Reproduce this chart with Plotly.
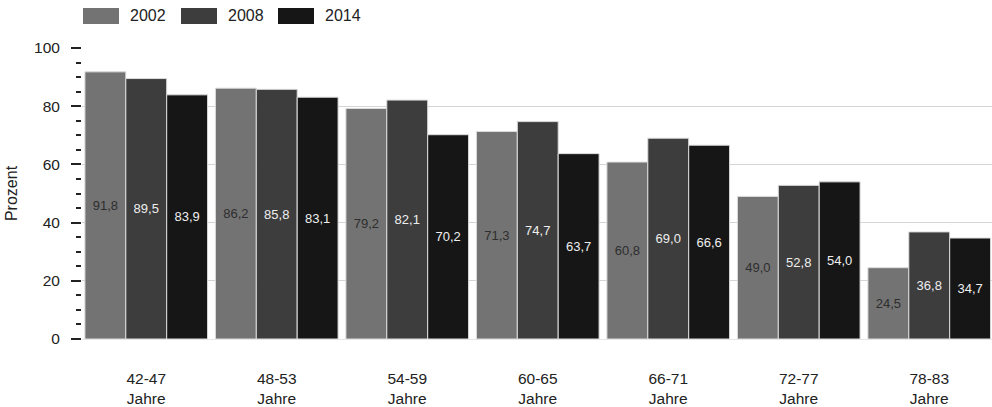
import plotly.graph_objects as go

categories = ["42-47", "48-53", "54-59", "60-65", "66-71", "72-77", "78-83"]
unit = "Jahre"
years = ["2002", "2008", "2014"]
values_2002 = [91.8, 86.2, 79.2, 71.3, 60.8, 49.0, 24.5]
values_2008 = [89.5, 85.8, 82.1, 74.7, 69.0, 52.8, 36.8]
values_2014 = [83.9, 83.1, 70.2, 63.7, 66.6, 54.0, 34.7]
bar_colors = ["#737373", "#3d3d3d", "#161616"]
label_colors = ["#2e2e2e", "#eeeeee", "#eeeeee"]
y_tick_values = [0, 20, 40, 60, 80, 100]

series = [values_2002, values_2008, values_2014]
FONT = "Liberation Sans, Arial, Helvetica, sans-serif"

W, H = 992, 407
L, R, T, B = 82, 0, 48, 68
pw, ph = W - L - R, H - T - B

def fmt(v):
    return f"{v:.1f}".replace(".", ",")

fig = go.Figure()
for name, vals, col, tcol in zip(years, series, bar_colors, label_colors):
    fig.add_trace(go.Bar(
        name=name, x=categories, y=vals,
        marker=dict(color=col, line=dict(color="#dcdcdc", width=1)),
        text=[fmt(v) for v in vals],
        textposition="inside", insidetextanchor="middle",
        textangle=0,
        textfont=dict(family=FONT, size=13, color=tcol),
        showlegend=False,
        hoverinfo="skip",
    ))

# manual legend (wide swatches)
def px_x(p):
    return (p - L) / pw
def px_y(p):
    return (H - B - p) / ph

legend_x = [83, 181, 278]
shapes = []
annotations = []
for name, col, lx in zip(years, bar_colors, legend_x):
    shapes.append(dict(type="rect", xref="paper", yref="paper",
                       x0=px_x(lx), x1=px_x(lx + 36), y0=px_y(24), y1=px_y(8),
                       fillcolor=col, line=dict(width=0)))
    annotations.append(dict(xref="paper", yref="paper", x=px_x(lx + 45), y=px_y(16),
                            text=name, showarrow=False, xanchor="left", yanchor="middle",
                            font=dict(family=FONT, size=16, color="#222222")))

unit_per_px = 1 / 130.5
x0 = -(146.25 - L) * unit_per_px
x1 = x0 + pw * unit_per_px

fig.update_layout(
    width=W, height=H,
    margin=dict(l=L, r=R, t=T, b=B, pad=0),
    paper_bgcolor="white", plot_bgcolor="white",
    barmode="group", bargap=0.06, bargroupgap=0,
    font=dict(family=FONT, size=15.5, color="#222222"),
    shapes=shapes, annotations=annotations,
    xaxis=dict(
        range=[x0, x1],
        tickmode="array", tickvals=categories,
        ticktext=[f"{c}<br>{unit}" for c in categories],
        tickfont=dict(family=FONT, size=15.5, color="#222222"),
        ticks="", showline=False, showgrid=False, zeroline=False,
        ticklabelstandoff=28,
    ),
    yaxis=dict(
        range=[0, 100],
        tickvals=y_tick_values,
        ticks="outside", ticklen=10, tickwidth=2, tickcolor="#222222",
        minor=dict(dtick=5, ticks="outside", ticklen=5, tickwidth=2, tickcolor="#222222", showgrid=False),
        showgrid=True, gridcolor="#d4d4d4", gridwidth=1,
        zeroline=True, zerolinecolor="#e6e6e6", zerolinewidth=1,
        showline=False,
        tickfont=dict(family=FONT, size=15.5, color="#222222"),
        ticklabelstandoff=8,
        title=dict(text="Prozent", font=dict(family=FONT, size=16, color="#222222"), standoff=12),
    ),
)

fig.write_html("out.html")
